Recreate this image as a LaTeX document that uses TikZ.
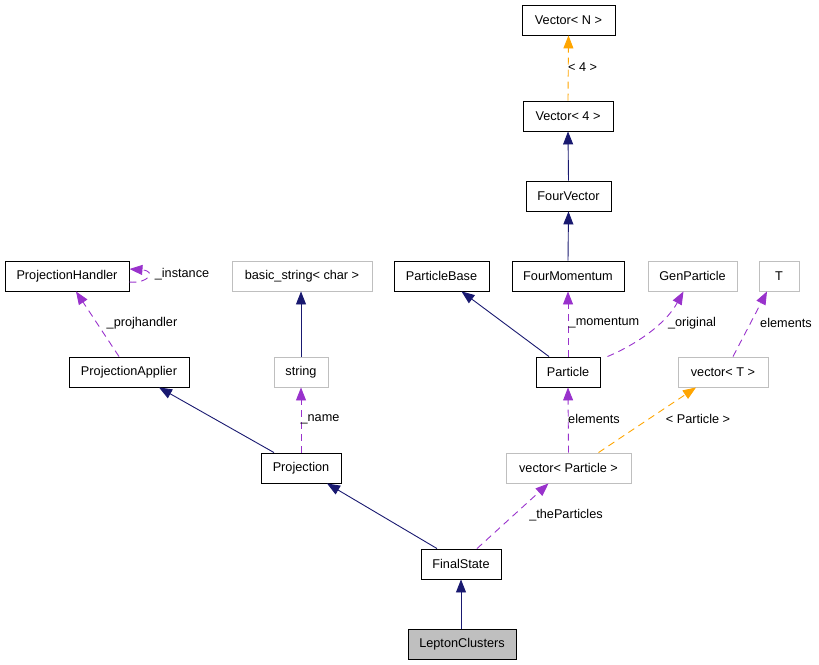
\documentclass[tikz,border=0pt]{standalone}
\usepackage{fontspec}
\setmainfont{Liberation Sans}
\usetikzlibrary{arrows.meta,calc}
\definecolor{navy}{RGB}{25,25,112}
\definecolor{orchid}{RGB}{153,50,204}
\definecolor{orng}{RGB}{255,165,0}
\definecolor{greybox}{RGB}{191,191,191}
\tikzset{
  cls/.style={draw=black,line width=0.9pt,minimum height=30pt,inner sep=0pt,font=\fontsize{12.7}{14}\selectfont},
  ext/.style={cls,draw=greybox},
  inh/.style={draw=navy,line width=0.9pt,-{Triangle[length=13pt,width=10pt]}},
  use/.style={draw=orchid,line width=0.9pt,dash pattern=on 7pt off 5pt,-{Triangle[length=13pt,width=10pt]}},
  tmpl/.style={draw=orng,line width=0.9pt,dash pattern=on 7pt off 5pt,-{Triangle[length=13pt,width=10pt]}},
  lbl/.style={font=\fontsize{12.7}{14}\selectfont,inner sep=0pt}
}
\begin{document}
\begin{tikzpicture}[x=1pt,y=-1pt]
\useasboundingbox (0,0) rectangle (819,664);
% nodes
\node[cls,minimum width=93pt] (vecN) at (568.5,20) {Vector< N >};
\node[cls,minimum width=90pt] (vec4) at (568,116) {Vector< 4 >};
\node[cls,minimum width=85pt] (fv) at (568.5,196) {FourVector};
\node[cls,minimum width=112pt] (fm) at (568,276) {FourMomentum};
\node[cls,minimum width=95pt] (pb) at (441.5,276) {ParticleBase};
\node[ext,minimum width=89pt] (gp) at (692.5,276) {GenParticle};
\node[ext,minimum width=40pt] (T) at (779,276) {T};
\node[cls,minimum width=124pt] (ph) at (67,276) {ProjectionHandler};
\node[ext,minimum width=140pt] (bs) at (302,276) {basic\_string< char >};
\node[cls,minimum width=64pt] (pa) at (568,372) {Particle};
\node[ext,minimum width=90pt] (vT) at (723,372) {vector< T >};
\node[cls,minimum width=120pt] (papp) at (129,372) {ProjectionApplier};
\node[ext,minimum width=54pt] (str) at (301,372) {string};
\node[cls,minimum width=80pt] (proj) at (301,468) {Projection};
\node[ext,minimum width=125pt] (vP) at (568.5,468) {vector< Particle >};
\node[cls,minimum width=80pt] (fs) at (461,564) {FinalState};
\node[cls,fill=greybox,minimum width=108pt] (lc) at (462,644) {LeptonClusters};
% edges
\draw[tmpl] (vec4.north) -- (vecN.south);
\node[lbl,anchor=west] (l4) at (568,67) {< 4 >};
\draw[inh] (fv.north) -- (vec4.south);
\draw[inh] (fm.north) -- (fv.south);
\draw[inh] ([xshift=-19pt]pa.north) -- ([xshift=20pt]pb.south);
\draw[use] (pa.north) -- (fm.south);
\node[lbl] (lmom) at (604,323) {\_momentum};
\draw[use] ([xshift=7pt]pa.north east) .. controls (635,345) and (665,325) .. ([xshift=-9pt]gp.south);
\node[lbl] (lorig) at (692,323) {\_original};
\draw[use] ([xshift=10pt]vT.north) -- ([xshift=-12pt]T.south);
\node[lbl] (lel1) at (786,323) {elements};
\draw[use] (vP.north) -- (pa.south);
\node[lbl] (lel2) at (594,419) {elements};
\draw[tmpl] ([xshift=30pt]vP.north) -- ([xshift=-27pt]vT.south);
\node[lbl] (lpart) at (698,419) {< Particle >};
\draw[inh] ([xshift=-24pt]fs.north) -- ([xshift=26pt]proj.south);
\draw[use] ([xshift=16pt]fs.north) -- ([xshift=-20pt]vP.south);
\node[lbl] (ltp) at (566,515) {\_theParticles};
\draw[inh] (lc.north -| fs.south) -- (fs.south);
\draw[inh] ([xshift=-27pt]proj.north) -- ([xshift=30pt]papp.south);
\draw[use] (proj.north) -- (str.south);
\node[lbl] (lname) at (320,419) {\_name};
\draw[inh] (str.north) -- (str.north |- bs.south);
\draw[use] ([xshift=-10pt]papp.north) -- ([xshift=9pt]ph.south);
\node[lbl] (lph) at (142,323) {\_projhandler};
\draw[use] ([yshift=-6pt]ph.east) .. controls (148,284) and (157,271) .. ([yshift=7pt]ph.east);
\node[lbl] (linst) at (182,274) {\_instance};
\end{tikzpicture}
\end{document}
